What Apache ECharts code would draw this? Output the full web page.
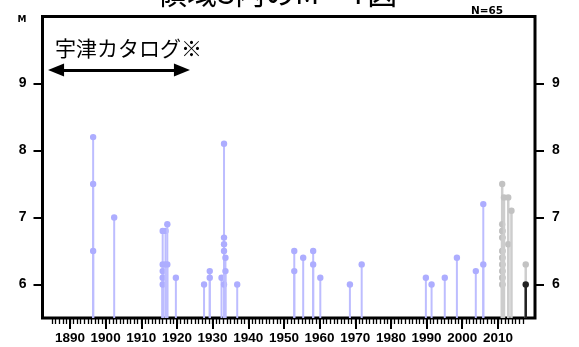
<!DOCTYPE html>
<html>
<head>
<meta charset="utf-8">
<script src="https://cdn.jsdelivr.net/npm/echarts@6/dist/echarts.min.js"></script>
<style>
  html, body { margin: 0; padding: 0; background: #fff; }
  #chart { width: 579px; height: 347px; }
</style>
</head>
<body>
<div id="chart"></div>
<script>
// ---- data (decimal year, magnitude) ----
const blueYears = [1896.5,1896.5,1896.5,1902.4,1916.0,1916.0,1916.0,1916.0,1916.0,1916.8,1916.8,1917.3,1917.3,1919.7,1927.6,1929.2,1929.2,1932.5,1933.2,1933.2,1933.2,1933.2,1933.2,1933.6,1933.6,1936.9,1952.9,1952.9,1955.4,1958.2,1958.2,1960.2,1968.5,1971.8,1989.8,1991.4,1995.1,1998.5,2003.8,2005.9,2005.9];
const blueMags  = [8.2,7.5,6.5,7.0,6.8,6.3,6.2,6.1,6.0,6.8,6.3,6.9,6.3,6.1,6.0,6.2,6.1,6.1,8.1,6.7,6.6,6.5,6.0,6.4,6.2,6.0,6.5,6.2,6.4,6.5,6.3,6.1,6.0,6.3,6.1,6.0,6.1,6.4,6.2,7.2,6.3];
const greyYears = [2011.2,2011.2,2011.2,2011.2,2011.2,2011.2,2011.2,2011.2,2011.2,2011.2,2011.3,2011.3,2011.3,2011.3,2011.3,2011.3,2011.3,2011.3,2011.7,2012.9,2012.9,2013.8,2017.8];
const greyMags  = [7.5,6.9,6.8,6.7,6.5,6.4,6.3,6.2,6.1,6.0,6.0,6.1,6.2,6.3,6.4,6.5,6.7,6.8,7.3,7.3,6.6,7.1,6.3];
const blackYears = [2017.8];
const blackMags  = [6.0];

const yTicks = [6, 7, 8, 9];
const xMajorTicks = [1890,1900,1910,1920,1930,1940,1950,1960,1970,1980,1990,2000,2010];
const xMinorTicks = [];
for (let y = 1885; y <= 2017; y++) xMinorTicks.push(y);

const arrowStart = [1886.1, 9.2];
const arrowEnd   = [1921.4, 9.2];

const Y_MIN = 5.5, Y_MAX = 10;

function pairs(xs, ys) { return xs.map((x, i) => [x, ys[i]]); }

function stemRenderer(stemColor, dotColor, width, r) {
  return function (params, api) {
    const x = api.value(0), m = api.value(1);
    const b = api.coord([x, Y_MIN]);
    const t = api.coord([x, m]);
    return {
      type: 'group',
      children: [
        { type: 'line', shape: { x1: b[0], y1: b[1], x2: t[0], y2: t[1] },
          style: { stroke: stemColor, lineWidth: width } },
        { type: 'circle', shape: { cx: t[0], cy: t[1], r: r },
          style: { fill: dotColor } }
      ]
    };
  };
}

const chart = echarts.init(document.getElementById('chart'), null, { renderer: 'canvas' });
const labelFont = { fontFamily: 'Liberation Sans', fontWeight: 'bold', color: '#000' };

chart.setOption({
  animation: false,
  backgroundColor: '#fff',
  grid: { left: 42.5, right: 44, top: 16.5, bottom: 29, show: true, borderColor: '#000', borderWidth: 3, backgroundColor: 'transparent' },
  xAxis: [
    { type: 'value', min: 1882.3, max: 2020.4, position: 'bottom',
      axisLine: { show: false }, splitLine: { show: false },
      axisTick: { show: true, length: 11, lineStyle: { color: '#000', width: 2 }, customValues: xMajorTicks },
      axisLabel: Object.assign({ show: true, fontSize: 13.5, margin: 13, customValues: xMajorTicks, formatter: v => String(v) }, labelFont) },
    { type: 'value', min: 1882.3, max: 2020.4, position: 'bottom',
      axisLine: { show: false }, splitLine: { show: false },
      axisTick: { show: true, length: 6, lineStyle: { color: '#000', width: 1.3 }, customValues: xMinorTicks },
      axisLabel: { show: false } }
  ],
  yAxis: [
    { type: 'value', min: Y_MIN, max: Y_MAX, position: 'left',
      axisLine: { show: false }, splitLine: { show: false },
      axisTick: { show: true, length: 9, lineStyle: { color: '#000', width: 2 }, customValues: yTicks },
      axisLabel: Object.assign({ show: true, fontSize: 14, margin: 16, customValues: yTicks, formatter: v => String(v) }, labelFont) },
    { type: 'value', min: Y_MIN, max: Y_MAX, position: 'right',
      axisLine: { show: false }, splitLine: { show: false },
      axisTick: { show: true, length: 9, lineStyle: { color: '#000', width: 2 }, customValues: yTicks },
      axisLabel: Object.assign({ show: true, fontSize: 14, margin: 17, customValues: yTicks, formatter: v => String(v) }, labelFont) }
  ],
  series: [
    { type: 'custom', xAxisIndex: 0, yAxisIndex: 0, clip: true,
      renderItem: stemRenderer('#bdbdff', '#adadff', 2, 3.2),
      data: pairs(blueYears, blueMags),
      markLine: {
        silent: true, symbol: ['triangle', 'triangle'], symbolSize: [13, 16],
        lineStyle: { color: '#000', width: 3, type: 'solid' },
        label: { show: false },
        data: [[{ coord: arrowStart }, { coord: arrowEnd }]]
      } },
    { type: 'custom', xAxisIndex: 0, yAxisIndex: 0, clip: true,
      renderItem: stemRenderer('#cdcdcd', '#c2c2c2', 2.5, 3.2),
      data: pairs(greyYears, greyMags) },
    { type: 'custom', xAxisIndex: 0, yAxisIndex: 0, clip: true,
      renderItem: stemRenderer('#222222', '#222222', 2.5, 3.2),
      data: pairs(blackYears, blackMags) }
  ],
  graphic: [
    { type: 'text', x: 157, y: -7.5, style: { text: '領域S内のM－T図', font: '30px "Noto Sans CJK JP"', fill: '#000', verticalAlign: 'middle', align: 'left' } },
    { type: 'text', x: 55, y: 48, style: { text: '宇津カタログ※', font: '21px "Noto Sans CJK JP"', fill: '#000', verticalAlign: 'middle', align: 'left' } },
    { type: 'text', x: 22, y: 20, style: { text: 'M', font: 'bold 9px "DejaVu Sans"', fill: '#000', verticalAlign: 'middle', align: 'center' } },
    { type: 'text', x: 487, y: 11.5, style: { text: 'N=65', font: 'bold 10.5px "DejaVu Sans"', fill: '#000', verticalAlign: 'middle', align: 'center' } }
  ]
});
</script>
</body>
</html>
